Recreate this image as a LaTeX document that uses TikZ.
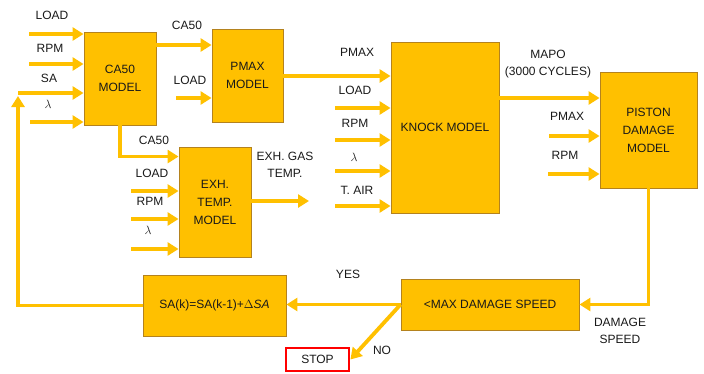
\documentclass[tikz,border=0pt]{standalone}
\usepackage{fontspec}
\setmainfont{Liberation Sans}
\usetikzlibrary{arrows.meta}
\definecolor{amber}{RGB}{255,192,0}
\definecolor{amberdark}{RGB}{180,130,30}
\definecolor{txt}{RGB}{25,25,25}
\begin{document}
\begin{tikzpicture}[x=1pt,y=-1pt,
  blk/.style={draw=amberdark,line width=0.9pt,fill=amber,align=center,text=txt,inner sep=0pt,font=\fontsize{12}{18}\selectfont},
  arr/.style={draw=amber,line width=3.8pt,-{Triangle[length=11pt,width=13pt]}},
  lbl/.style={text=txt,align=center,inner sep=0pt,font=\fontsize{12}{17.5}\selectfont}]
\useasboundingbox (0,0) rectangle (704,373);
% blocks
\node[blk,minimum width=72pt,minimum height=93pt] (ca50) at (120,78.5) {CA50\\MODEL};
\node[blk,minimum width=71pt,minimum height=93pt] (pmax) at (247.5,75.5) {PMAX\\MODEL};
\node[blk,minimum width=108pt,minimum height=171pt] (knock) at (445,127.5) {KNOCK MODEL};
\node[blk,minimum width=97pt,minimum height=116pt] (piston) at (648.5,130) {PISTON\\DAMAGE\\MODEL};
\node[blk,minimum width=72pt,minimum height=110pt] (exh) at (215,202) {EXH.\\TEMP.\\MODEL};
\node[blk,minimum width=178pt,minimum height=51pt] (maxd) at (490,304.5) {{<}MAX DAMAGE SPEED};
\node[blk,minimum width=143pt,minimum height=61pt] (sa) at (214.5,305.5) {SA(k)=SA(k-1)+$\Delta \mathit{SA}$};
\node[draw=red,line width=2.8pt,fill=white,minimum width=63pt,minimum height=23pt,inner sep=0pt,text=txt,font=\fontsize{12}{14}\selectfont] (stop) at (317.5,359.5) {STOP};
% CA50 inputs
\coordinate (c1) at (29,34);
\coordinate (c2) at (29,64);
\coordinate (c3) at (18,93);
\coordinate (c4) at (30,122);
\draw[arr] (c1) -- (c1 -| ca50.west);
\draw[arr] (c2) -- (c2 -| ca50.west);
\draw[arr] (c3) -- (c3 -| ca50.west);
\draw[arr] (c4) -- (c4 -| ca50.west);
\node[lbl] (l1) at (52,15) {LOAD};
\node[lbl] (l2) at (50,48) {RPM};
\node[lbl] (l3) at (49,78) {SA};
\node[lbl] (l4) at (48,104) {$\lambda$};
% PMAX inputs
\coordinate (p2) at (176,98);
\draw[arr] (ca50.east |- 0,45) -- (pmax.west |- 0,45);
\draw[arr] (p2) -- (p2 -| pmax.west);
\node[lbl] (lp1) at (187,25) {CA50};
\node[lbl] (lp2) at (190,80) {LOAD};
% KNOCK inputs
\draw[arr] (pmax.east |- 0,76) -- (knock.west |- 0,76);
\node[lbl] (lk0) at (357,52) {PMAX};
\coordinate (k1) at (335,108);
\coordinate (k2) at (335,140);
\coordinate (k3) at (335,171);
\coordinate (k4) at (335,206);
\draw[arr] (k1) -- (k1 -| knock.west);
\draw[arr] (k2) -- (k2 -| knock.west);
\draw[arr] (k3) -- (k3 -| knock.west);
\draw[arr] (k4) -- (k4 -| knock.west);
\node[lbl] (lk1) at (355,90) {LOAD};
\node[lbl] (lk2) at (355,123) {RPM};
\node[lbl] (lk3) at (354,157) {$\lambda$};
\node[lbl] (lk4) at (357,190) {T. AIR};
% PISTON inputs
\draw[arr] (knock.east |- 0,98) -- (piston.west |- 0,98);
\node[lbl] (lm) at (548,64) {MAPO\\(3000 CYCLES)};
\coordinate (q1) at (549,136);
\coordinate (q2) at (548,174);
\draw[arr] (q1) -- (q1 -| piston.west);
\draw[arr] (q2) -- (q2 -| piston.west);
\node[lbl] (lq1) at (567,116) {PMAX};
\node[lbl] (lq2) at (565,155) {RPM};
% EXH
\draw[arr] (ca50.south) |- ([yshift=-10pt]exh.north west);
\node[lbl] (le0) at (154,140) {CA50};
\coordinate (e1) at (131,191);
\coordinate (e2) at (131,219);
\coordinate (e3) at (131,249);
\draw[arr] (e1) -- (e1 -| exh.west);
\draw[arr] (e2) -- (e2 -| exh.west);
\draw[arr] (e3) -- (e3 -| exh.west);
\node[lbl] (le1) at (152,173) {LOAD};
\node[lbl] (le2) at (150,201) {RPM};
\node[lbl] (le3) at (148,230) {$\lambda$};
\coordinate (eo) at (309,201);
\draw[arr] (exh.east |- eo) -- (eo);
\node[lbl] (lg) at (285,165) {EXH. GAS\\TEMP.};
% bottom loop
\draw[arr] (piston.south) |- (maxd.east);
\node[lbl] (ld) at (620,331) {DAMAGE\\SPEED};
\draw[arr] (maxd.west) -- (maxd.west -| sa.east);
\node[lbl] (ly) at (348,274) {YES};
\draw[arr] (maxd.west) -- (stop.east);
\node[lbl] (ln) at (382,350) {NO};
\coordinate (fb) at (18,96);
\draw[arr] (sa.west) -| (fb);
\end{tikzpicture}
\end{document}
